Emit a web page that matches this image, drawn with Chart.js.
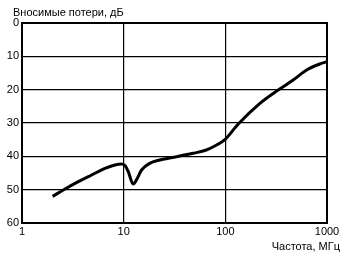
<!DOCTYPE html>
<html>
<head>
<meta charset="utf-8">
<script src="https://cdn.jsdelivr.net/npm/chart.js@4.4.0/dist/chart.umd.min.js"></script>
<style>
  html, body { margin: 0; padding: 0; background: #fff; }
  #wrap { width: 346px; height: 254px; }
</style>
</head>
<body>
<div id="wrap"><canvas id="c" width="346" height="254"></canvas></div>
<script>
// Частота, МГц
const freq = [2, 2.65, 3.58, 4.84, 6.55, 8.2, 9.5, 10.4, 11.1, 12.4, 13.4, 15, 18, 22.7, 33, 48, 65, 82, 99, 134, 219, 331, 465, 631, 850, 1000];
// Вносимые потери, дБ
const loss = [52, 49.8, 47.6, 45.6, 43.6, 42.6, 42.3, 42.9, 44.6, 48.3, 47, 44.1, 42.1, 41.1, 40.1, 39.1, 38.1, 36.6, 35, 30.3, 24.1, 20.1, 17.1, 14.1, 12.3, 11.6];
const xTicks = [1, 10, 100, 1000];
const yTicks = [0, 10, 20, 30, 40, 50, 60];

const FONT = 'Liberation Sans, Arial, sans-serif';

const labelsPlugin = {
  id: 'labels',
  afterDraw(chart) {
    const ctx = chart.ctx;
    const a = chart.chartArea;
    ctx.save();
    // рамка
    ctx.strokeStyle = '#000';
    ctx.lineWidth = 2;
    ctx.strokeRect(a.left, a.top, a.right - a.left, a.bottom - a.top);
    ctx.fillStyle = '#000';
    ctx.font = '11px ' + FONT;
    ctx.textBaseline = 'middle';
    ctx.textAlign = 'left';
    ctx.fillText('Вносимые потери, дБ', 13, 13);
    ctx.textAlign = 'right';
    ctx.fillText('Частота, МГц', 340, 247);
    ctx.restore();
  }
};

new Chart(document.getElementById('c'), {
  type: 'line',
  data: {
    datasets: [{
      data: freq.map((f, i) => ({ x: f, y: loss[i] })),
      borderColor: '#000',
      borderWidth: 3,
      pointRadius: 0,
      cubicInterpolationMode: 'monotone',
      fill: false
    }]
  },
  options: {
    responsive: false,
    animation: false,
    devicePixelRatio: 1,
    layout: { padding: { left: 0, top: 23, right: 19, bottom: 0 } },
    plugins: { legend: { display: false }, tooltip: { enabled: false } },
    scales: {
      x: {
        type: 'logarithmic',
        min: 1,
        max: 1000,
        afterBuildTicks: s => { s.ticks = xTicks.map(v => ({ value: v })); },
        afterFit: s => { s.height = 31; },
        grid: { color: '#000', lineWidth: 1.2, drawTicks: false },
        border: { display: false },
        ticks: {
          color: '#000',
          font: { family: FONT, size: 11 },
          padding: 2,
          maxRotation: 0,
          autoSkip: false,
          callback: v => String(v)
        }
      },
      y: {
        reverse: true,
        min: 0,
        max: 60,
        afterBuildTicks: s => { s.ticks = yTicks.map(v => ({ value: v })); },
        afterFit: s => { s.width = 22; },
        grid: { color: '#000', lineWidth: 1.2, drawTicks: false },
        border: { display: false },
        ticks: {
          color: '#000',
          font: { family: FONT, size: 11 },
          padding: 3,
          autoSkip: false
        }
      }
    }
  },
  plugins: [labelsPlugin]
});
</script>
</body>
</html>
